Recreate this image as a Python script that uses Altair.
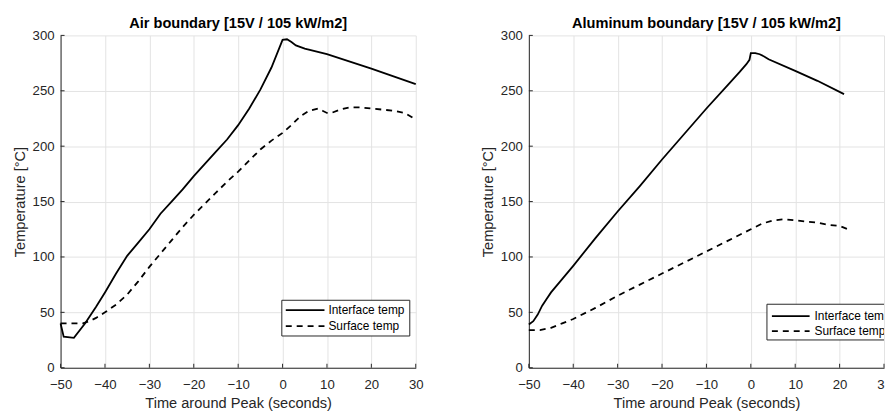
import altair as alt
import pandas as pd

# ---- data ----
air_if_t = [-50, -49.3, -47, -44.5, -42, -40, -37.5, -35, -32.5, -30, -27.5, -25, -22.5, -20, -17.5,
            -15, -12.5, -10, -7.5, -5, -2.5, 0, 1, 2, 3, 5, 10, 15, 20, 25, 30]
air_if_v = [40, 28, 27, 40, 55, 68, 85, 101, 113, 125, 139, 150, 161, 173, 184,
            195, 206, 219, 234, 251, 271, 296, 296.5, 294, 291, 288, 283, 276.5, 270, 263, 256]
air_sf_t = [-50, -47, -45, -43.5, -42, -40, -37.5, -35, -32.5, -30, -27.5, -25, -22.5, -20, -17.5,
            -15, -12.5, -10, -7.5, -5, -2.5, 0, 2, 4, 6, 8, 9, 10, 11, 13, 15, 17.5, 20, 22.5, 25, 27.5, 30]
air_sf_v = [40, 40, 40, 42, 45, 50, 57, 66, 78, 91, 103, 115, 127, 138, 148,
            158, 168, 177, 187, 197, 205, 212, 219, 227, 232, 234, 232, 230, 230, 233, 235, 235, 234, 233, 232, 230, 224]

al_if_t = [-50, -49, -48, -47, -46, -45, -42.5, -40, -35, -30, -25, -20, -15, -10, -5, -2.5, -1, -0.3,
           0, 1, 2, 3, 4, 10, 15, 21]
al_if_v = [39, 42, 48, 56, 62, 68, 80, 92, 117, 141, 164, 188, 211, 234, 256, 267, 274, 278,
           284, 284, 283, 281, 278.5, 268, 259, 247]
al_sf_t = [-50, -47.5, -45, -42.5, -40, -35, -30, -25, -20, -15, -10, -5, 0, 2.5, 5, 7.5, 10, 12.5, 15, 17.5, 20, 22.5]
al_sf_v = [34, 34, 36, 40, 44, 54, 65, 75, 85, 95, 105, 115, 125, 130, 133, 134, 133, 132, 131, 129, 128, 124]

titles = ["Air boundary [15V / 105 kW/m2]", "Aluminum boundary [15V / 105 kW/m2]"]
series_names = ["Interface temp", "Surface temp"]
x_ticks = [-50, -40, -30, -20, -10, 0, 10, 20, 30]
y_ticks = [0, 50, 100, 150, 200, 250, 300]

FONT = "Liberation Sans"
TXT = "#262626"
W, H = 358, 335

xscale = alt.Scale(domain=[-50, 30], nice=False, zero=False)
yscale = alt.Scale(domain=[0, 300], nice=False)


def panel(title, if_t, if_v, sf_t, sf_v, leg, clip):
    d_if = pd.DataFrame({"t": if_t, "v": if_v})
    d_sf = pd.DataFrame({"t": sf_t, "v": sf_v})
    xaxis_kw = dict(values=x_ticks, format="d", labelFlush=False)
    if clip:
        # the reference is cut at the right page edge: only the "3" of "30" shows
        xaxis_kw["labelExpr"] = "datum.value == 30 ? '3' : datum.label"
        xaxis_kw["labelAlign"] = {"condition": {"test": "datum.value == 30", "value": "right"},
                                  "value": "center"}
    x = alt.X("t:Q", scale=xscale, title="Time around Peak (seconds)", axis=alt.Axis(**xaxis_kw))
    y = alt.Y("v:Q", scale=yscale, title="Temperature [°C]", axis=alt.Axis(values=y_ticks))
    l1 = alt.Chart(d_if).mark_line(color="black", strokeWidth=1.8).encode(x=x, y=y)
    l2 = alt.Chart(d_sf).mark_line(color="black", strokeWidth=1.8, strokeDash=[6, 5]).encode(x=x, y=y)

    # inward ticks (MATLAB style)
    xt = alt.Chart(pd.DataFrame({"t": x_ticks})).mark_rule(color=TXT, strokeWidth=1).encode(
        x=alt.X("t:Q", scale=xscale), y=alt.value(H), y2=alt.value(H - 4))
    yt = alt.Chart(pd.DataFrame({"v": y_ticks})).mark_rule(color=TXT, strokeWidth=1).encode(
        y=alt.Y("v:Q", scale=yscale), x=alt.value(0), x2=alt.value(4))

    one = pd.DataFrame({"k": [0]})
    bx0, by0, bx1, by1, lx0, lx1, tx, r1, r2 = leg
    layers = [l1, l2, xt, yt]
    layers.append(alt.Chart(one).mark_rect(fill="white", stroke=TXT, strokeWidth=1, clip=clip).encode(
        x=alt.value(bx0), x2=alt.value(bx1), y=alt.value(by0), y2=alt.value(by1)))
    layers.append(alt.Chart(one).mark_rule(color="black", strokeWidth=1.8).encode(
        x=alt.value(lx0), x2=alt.value(lx1), y=alt.value(r1)))
    layers.append(alt.Chart(one).mark_rule(color="black", strokeWidth=1.8, strokeDash=[6, 5]).encode(
        x=alt.value(lx0), x2=alt.value(lx1), y=alt.value(r2)))
    for name, ry in zip(series_names, [r1, r2]):
        layers.append(alt.Chart(one).mark_text(text=name, align="left", baseline="middle", font=FONT,
                                               fontSize=12, color="black", clip=clip).encode(
            x=alt.value(tx), y=alt.value(ry)))
    return alt.layer(*layers).properties(
        width=W, height=H,
        title=alt.TitleParams(title, font=FONT, fontSize=14.7, fontWeight="bold", color="black",
                              offset=-2.3))


left = panel(titles[0], air_if_t, air_if_v, air_sf_t, air_sf_v,
             (223, 267, 352, 303, 227, 266, 270, 277, 293), False)
right = panel(titles[1], al_if_t, al_if_v, al_sf_t, al_sf_v,
              (240, 271, 400, 307, 245, 283, 288, 283, 298), True)

chart = alt.hconcat(left, right, spacing=57).properties(
    padding={"left": 4, "top": 6, "right": 0, "bottom": 0}
).configure_view(stroke=None).configure_axis(
    gridColor="#e3e3e3", gridWidth=1, domainColor=TXT, domainWidth=1,
    ticks=False, tickSize=0, labelColor=TXT, titleColor=TXT,
    labelFont=FONT, titleFont=FONT, labelFontSize=13.3, titleFontSize=14.7,
    titleFontWeight="normal", labelFlush=False,
).configure_axisY(labelPadding=6.5, titlePadding=4.7).configure_axisX(labelPadding=9.5, titlePadding=5)

chart.save("out.html", embed_options={"renderer": "svg", "actions": False})
